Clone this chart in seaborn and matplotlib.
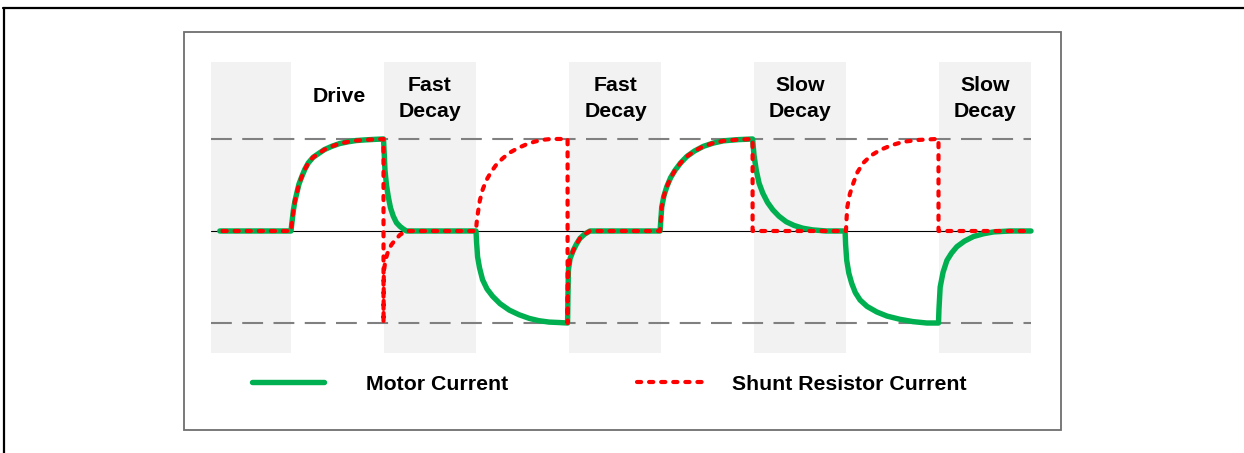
import matplotlib
matplotlib.use("Agg")
import matplotlib.pyplot as plt
from matplotlib.lines import Line2D
from matplotlib.patches import Rectangle
import seaborn as sns
import pandas as pd

# time in phase units, current normalised to the peak
motor_t = [-0.77, 0.0,
           0.011, 0.025, 0.041, 0.062, 0.086, 0.116, 0.149, 0.187, 0.238, 0.295,
           0.362, 0.44, 0.524, 0.62, 0.703, 0.80, 0.908, 1.0,
           1.016, 1.032, 1.052, 1.076, 1.106, 1.14, 1.178, 1.216, 1.25,
           2.0, 2.006, 2.017, 2.038, 2.071, 2.119, 2.18, 2.26, 2.36, 2.465, 2.576,
           2.68, 2.79, 2.90, 2.99,
           2.994, 2.999, 3.017, 3.052, 3.087, 3.124, 3.173, 3.232,
           3.99, 3.998, 4.008, 4.031, 4.062, 4.104, 4.152, 4.212, 4.279, 4.363,
           4.458, 4.563, 4.674, 4.833, 4.99,
           5.006, 5.03, 5.06, 5.101, 5.152, 5.209, 5.276, 5.354, 5.439, 5.534,
           5.639, 5.787,
           5.99, 5.996, 6.008, 6.031, 6.062, 6.101, 6.152, 6.228, 6.333, 6.444,
           6.585, 6.725, 6.873, 7.0,
           7.005, 7.018, 7.049, 7.091, 7.141, 7.199, 7.281, 7.378, 7.486, 7.595,
           7.775, 8.0]
motor_v = [0, 0,
           0.10, 0.22, 0.32, 0.41, 0.51, 0.59, 0.67, 0.74, 0.80, 0.84,
           0.885, 0.92, 0.95, 0.97, 0.983, 0.99, 0.996, 1.0,
           0.66, 0.50, 0.37, 0.25, 0.16, 0.09, 0.05, 0.02, 0.0,
           0.0, -0.12, -0.28, -0.40, -0.53, -0.63, -0.71, -0.79, -0.86, -0.91, -0.95,
           -0.975, -0.99, -0.995, -1.0,
           -0.70, -0.42, -0.30, -0.21, -0.14, -0.08, -0.035, 0.0,
           0.0, 0.12, 0.26, 0.38, 0.48, 0.58, 0.66, 0.74, 0.81, 0.87,
           0.92, 0.955, 0.98, 0.993, 1.0,
           0.82, 0.66, 0.52, 0.41, 0.31, 0.23, 0.16, 0.10, 0.06, 0.03,
           0.012, 0.0,
           0.0, -0.15, -0.32, -0.46, -0.57, -0.67, -0.75, -0.82, -0.88, -0.925,
           -0.96, -0.985, -1.0, -1.0,
           -0.85, -0.61, -0.45, -0.32, -0.24, -0.17, -0.11, -0.06, -0.03, -0.01,
           0.0, 0.0]

shunt_t = [-0.74, 0.0,
           0.011, 0.025, 0.041, 0.062, 0.086, 0.116, 0.149, 0.187, 0.238, 0.295,
           0.362, 0.44, 0.524, 0.62, 0.703, 0.80, 0.908, 1.0,
           1.0, 1.003, 1.02, 1.05, 1.085, 1.124, 1.18, 1.25,
           2.0, 2.006, 2.018, 2.041, 2.072, 2.111, 2.162, 2.219, 2.289, 2.362,
           2.451, 2.541, 2.63, 2.714, 2.81, 2.99,
           2.99, 2.994, 2.999, 3.017, 3.052, 3.087, 3.124, 3.173, 3.232,
           3.99, 3.998, 4.008, 4.031, 4.062, 4.104, 4.152, 4.212, 4.279, 4.363,
           4.458, 4.563, 4.674, 4.833, 4.99,
           4.99, 6.0,
           6.004, 6.014, 6.041, 6.079, 6.124, 6.187, 6.27, 6.368, 6.486, 6.62,
           6.79, 6.98, 7.0,
           7.0, 8.0]
shunt_v = [0, 0,
           0.10, 0.22, 0.32, 0.41, 0.51, 0.59, 0.67, 0.74, 0.80, 0.84,
           0.885, 0.92, 0.95, 0.97, 0.983, 0.99, 0.996, 1.0,
           -1.0, -0.45, -0.32, -0.22, -0.15, -0.10, -0.04, 0.0,
           0.0, 0.08, 0.18, 0.33, 0.45, 0.55, 0.64, 0.72, 0.79, 0.85,
           0.90, 0.94, 0.97, 0.99, 1.0, 1.0,
           -1.0, -0.70, -0.42, -0.30, -0.21, -0.14, -0.08, -0.035, 0.0,
           0.0, 0.12, 0.26, 0.38, 0.48, 0.58, 0.66, 0.74, 0.81, 0.87,
           0.92, 0.955, 0.98, 0.993, 1.0,
           0.0, 0.0,
           0.10, 0.26, 0.40, 0.52, 0.64, 0.74, 0.82, 0.88, 0.93, 0.97,
           0.99, 1.0, 1.0,
           0.0, 0.0]

# shaded (decay) phases
shade_start = [-0.865, 1.01, 3.01, 5.01, 7.01]
shade_end = [0.0, 2.0, 4.0, 6.0, 8.0]

# phase labels
label_text = ['Drive', 'Fast\nDecay', 'Fast\nDecay', 'Slow\nDecay', 'Slow\nDecay']
label_t = [0.52, 1.5, 3.51, 5.5, 7.5]
label_v = [1.46, 1.44, 1.44, 1.44, 1.44]

limit_levels = [1.0, -1.0]

GREEN = '#00b050'
RED = '#ff0000'
SHADE = '#f2f2f2'

sns.set_theme(style='white')
plt.rcParams['font.family'] = ['Liberation Sans', 'DejaVu Sans']
plt.rcParams['text.color'] = 'black'

fig = plt.figure(figsize=(12.44, 4.53), dpi=100)
fig.patch.set_facecolor('white')

# outer and inner frames
fig.add_artist(Line2D([3 / 1244, 1.0], [1 - 7.5 / 453] * 2, transform=fig.transFigure,
                      color='black', lw=1.6))
fig.add_artist(Line2D([4 / 1244] * 2, [0.0, 1 - 7.5 / 453], transform=fig.transFigure,
                      color='black', lw=1.6))
fig.add_artist(Rectangle((184 / 1244, 1 - 430 / 453), (1061 - 184) / 1244, (430 - 32) / 453,
                         transform=fig.transFigure, fill=False, edgecolor='#6e6e6e', lw=1.3))

ax = fig.add_axes([211 / 1244, 1 - 353 / 453, 820 / 1244, 291.3 / 453])
ax.set_xlim(-0.865, 8.0)
ax.set_ylim(-1.326, 1.84)
ax.set_axis_off()

for s, e in zip(shade_start, shade_end):
    ax.axvspan(s, e, color=SHADE, lw=0, zorder=0)

for lev in limit_levels:
    ax.axhline(lev, color='#808080', lw=1.5, linestyle=(0, (10, 5)), zorder=1)
ax.axhline(0, color='black', lw=0.8, zorder=1)

motor = pd.DataFrame({'t': motor_t, 'i': motor_v})
shunt = pd.DataFrame({'t': shunt_t, 'i': shunt_v})

sns.lineplot(data=motor, x='t', y='i', sort=False, estimator=None, ax=ax, legend=False,
             color=GREEN, lw=3.9, solid_capstyle='round', solid_joinstyle='round',
             zorder=3, clip_on=False)
motor_line = ax.lines[-1]
sns.lineplot(data=shunt, x='t', y='i', sort=False, estimator=None, ax=ax, legend=False,
             color=RED, lw=3.0, linestyle=(0, (1.0, 1.9)), dash_capstyle='round',
             zorder=4, clip_on=False)
shunt_line = ax.lines[-1]
ax.set_xlabel('')
ax.set_ylabel('')

for txt, t, v in zip(label_text, label_t, label_v):
    ax.text(t, v, txt, ha='center', va='center', fontsize=15.3, fontweight='bold',
            color='black', linespacing=1.42)

leg_font = {'family': 'Liberation Sans', 'weight': 'bold', 'size': 15.3}
leg_y = (453 - 384) / 453
fig.legend([motor_line], ['Motor Current'], loc='center left',
           bbox_to_anchor=(252 / 1244, leg_y), frameon=False, borderpad=0,
           borderaxespad=0, handlelength=3.39, handletextpad=1.98, prop=leg_font,
           labelcolor='black')
fig.legend([shunt_line], ['Shunt Resistor Current'], loc='center left',
           bbox_to_anchor=(637 / 1244, leg_y), frameon=False, borderpad=0,
           borderaxespad=0, handlelength=3.15, handletextpad=1.32, prop=leg_font,
           labelcolor='black')

fig.savefig('out.png', dpi=100, facecolor='white')
